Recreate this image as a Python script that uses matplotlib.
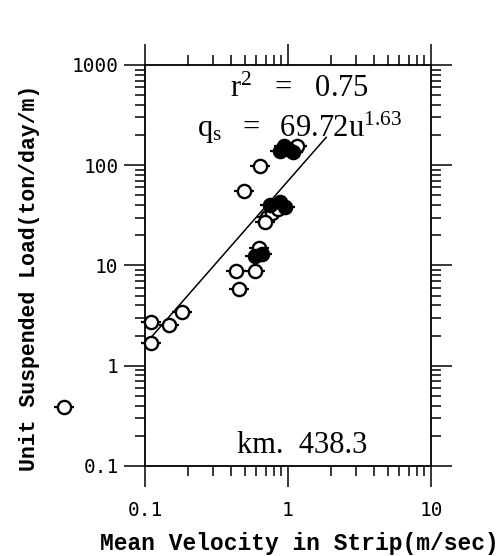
import numpy as np
import matplotlib
matplotlib.use("Agg")
import matplotlib.pyplot as plt

# ---- data ----
open_u = [0.110, 0.110, 0.148, 0.181, 0.027, 0.433, 0.588, 0.454, 0.622,
          0.492, 0.637, 0.71, 0.77, 0.69, 0.85, 1.15]
open_q = [2.75, 1.67, 2.55, 3.46, 0.39, 8.9, 8.9, 5.86, 15.0,
          55.6, 98.3, 30.7, 33.2, 27.4, 36.6, 155.6]
filled_u = [0.748, 0.879, 0.953, 0.588, 0.658, 0.879, 1.0, 1.084, 0.94]
filled_q = [40.2, 43.0, 38.3, 12.4, 13.0, 138.7, 145.0, 135.5, 155.0]

coef = 69.72
expo = 1.63
fit_range = [0.11, 1.85]

x_ticks = [0.1, 1, 10]
x_ticklabels = ["0.1", "1", "10"]
y_ticks = [0.1, 1, 10, 100, 1000]
y_ticklabels = ["0.1", "1", "10", "100", "1000"]

plt.rcParams["mathtext.fontset"] = "custom"
plt.rcParams["mathtext.rm"] = "Liberation Serif"
plt.rcParams["mathtext.it"] = "Liberation Serif"

fig = plt.figure(figsize=(5.01, 5.56), dpi=100)
ax = fig.add_axes([0.2894, 0.1619, 0.5709, 0.7212])
ax.set_xscale("log")
ax.set_yscale("log")
ax.set_xlim(0.1, 10)
ax.set_ylim(0.1, 1000)

# fitted line
uu = np.logspace(np.log10(fit_range[0]), np.log10(fit_range[1]), 50)
ax.plot(uu, coef * uu ** expo, color="black", lw=1.1, zorder=2)

# markers: circles with small horizontal whiskers
for xs, ys, face in [(open_u, open_q, "white"), (filled_u, filled_q, "black")]:
    ax.plot(xs, ys, linestyle="none", marker="_", markersize=15,
            markeredgewidth=1.6, color="black", clip_on=False, zorder=3)
    ax.plot(xs, ys, linestyle="none", marker="o", markersize=9.5,
            markerfacecolor=face, markeredgecolor="black",
            markeredgewidth=1.7, clip_on=False, zorder=4)

# ticks
ax.tick_params(which="both", direction="out", top=True, right=True,
               labeltop=False, labelright=False, color="black", width=1.1)
ax.tick_params(which="major", length=15)
ax.tick_params(axis="y", which="major", pad=4)
ax.tick_params(axis="x", which="major", pad=10)
ax.tick_params(which="minor", length=7.5)
ax.set_xticks(x_ticks)
ax.set_xticklabels(x_ticklabels, fontfamily="DejaVu Sans Mono", fontsize=14)
ax.set_yticks(y_ticks)
ax.set_yticklabels(y_ticklabels, fontfamily="DejaVu Sans Mono", fontsize=14)
for s in ax.spines.values():
    s.set_linewidth(1.3)

ax.set_xlabel("Mean Velocity in Strip(m/sec)", fontfamily="Liberation Mono",
              fontweight="bold", fontsize=16.5)
ax.set_ylabel("Unit Suspended Load(ton/day/m)", fontfamily="Liberation Mono",
              fontweight="bold", fontsize=15.5)
ax.xaxis.set_label_coords(0.54, -0.165)
ax.yaxis.set_label_coords(-0.367, 0.47)

ax.text(0.54, 0.938, r"r$^{\mathregular{2}}$   =   0.75", transform=ax.transAxes,
        ha="center", va="center", fontfamily="Liberation Serif", fontsize=22)
ax.text(0.54, 0.843, r"$\mathregular{q_s\ \ =\ \ 69.72u^{1.63}}$", transform=ax.transAxes,
        ha="center", va="center", fontfamily="Liberation Serif", fontsize=22)
ax.text(0.55, 0.05, "km.  438.3", transform=ax.transAxes,
        ha="center", va="center", fontfamily="Liberation Serif", fontsize=22)

fig.savefig("out.png", dpi=100)
